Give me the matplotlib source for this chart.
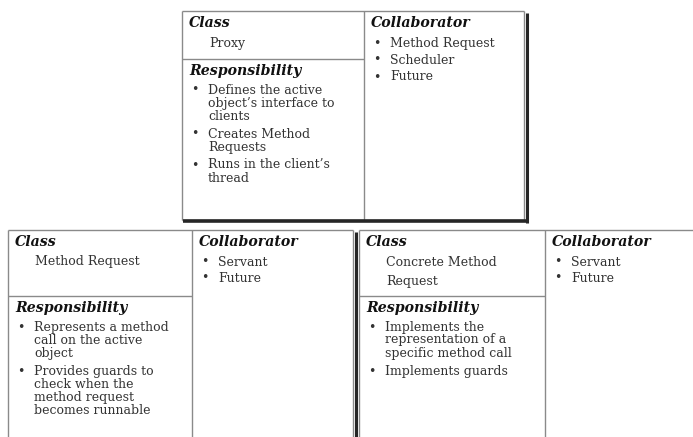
import matplotlib
matplotlib.use("Agg")
import matplotlib.pyplot as plt

# ---- content ----
proxy_class = ["Proxy"]
proxy_responsibilities = [
    ["Defines the active", "object\u2019s interface to", "clients"],
    ["Creates Method", "Requests"],
    ["Runs in the client\u2019s", "thread"],
]
proxy_collaborators = ["Method Request", "Scheduler", "Future"]

mr_class = ["Method Request"]
mr_responsibilities = [
    ["Represents a method", "call on the active", "object"],
    ["Provides guards to", "check when the", "method request", "becomes runnable"],
]
mr_collaborators = ["Servant", "Future"]

cmr_class = ["Concrete Method", "Request"]
cmr_responsibilities = [
    ["Implements the", "representation of a", "specific method call"],
    ["Implements guards"],
]
cmr_collaborators = ["Servant", "Future"]

W, H = 693, 437
fig = plt.figure(figsize=(W / 100, H / 100), dpi=100)
ax = fig.add_axes([0, 0, 1, 1])
ax.set_xlim(0, W)
ax.set_ylim(H, 0)
ax.axis("off")

SERIF = ["DejaVu Serif"]
BODY = 9.0
HEAD = 10.2
BODY_C = "#333333"
HEAD_C = "#111111"
EDGE_C = "#8a8a8a"
SHADOW_C = "#262626"


def line(x0, y0, x1, y1, c=EDGE_C, lw=1.0):
    ax.plot([x0, x1], [y0, y1], color=c, lw=lw, solid_capstyle="butt", clip_on=False)


def card(x0, y0, x1, y1, xdiv, ydiv, cls, resp, collab, collab_step,
         shadow_right=True, shadow_bottom=True, class_step=19.5):
    # frame
    line(x0, y0, x1, y0)
    line(x0, y0, x0, y1)
    line(x1, y0, x1, y1)
    if y1 < H:
        line(x0, y1, x1, y1)
    line(xdiv, y0, xdiv, y1)
    line(x0, ydiv, xdiv, ydiv)
    if shadow_right:
        line(x1 + 2.5, y0 + 2, x1 + 2.5, y1 + 2.5, c=SHADOW_C, lw=2.2)
    if shadow_bottom and y1 < H:
        line(x0 + 1, y1 + 0.5, x1 + 2.5, y1 + 0.5, c=SHADOW_C, lw=2.6)

    hx = x0 + 7
    ax.text(hx, y0 + 12, "Class", family=SERIF, style="italic", weight="bold",
            size=HEAD, color=HEAD_C, va="center", ha="left")
    for i, name in enumerate(cls):
        ax.text(x0 + 27, y0 + 32 + i * class_step, name, family=SERIF, size=BODY,
                color=BODY_C, va="center", ha="left")

    ax.text(hx, ydiv + 12, "Responsibility", family=SERIF, style="italic",
            weight="bold", size=HEAD, color=HEAD_C, va="center", ha="left")
    y = ydiv + 31
    for item in resp:
        ax.text(x0 + 12.5, y, "\u2022", family=SERIF, size=BODY, color=BODY_C,
                va="center", ha="center")
        for ln in item:
            ax.text(x0 + 26, y, ln, family=SERIF, size=BODY, color=BODY_C,
                    va="center", ha="left")
            y += 13
        y += 5

    cx = xdiv + 7
    ax.text(cx, y0 + 12, "Collaborator", family=SERIF, style="italic",
            weight="bold", size=HEAD, color=HEAD_C, va="center", ha="left")
    for i, name in enumerate(collab):
        yy = y0 + 32 + i * collab_step
        ax.text(xdiv + 12.5, yy, "\u2022", family=SERIF, size=BODY, color=BODY_C,
                va="center", ha="center")
        ax.text(xdiv + 26, yy, name, family=SERIF, size=BODY, color=BODY_C,
                va="center", ha="left")


# top card: Proxy
card(182, 11, 524, 220, 364, 59, proxy_class, proxy_responsibilities,
     proxy_collaborators, 17)
# bottom left: Method Request
card(8, 230, 353, H + 5, 192, 296, mr_class, mr_responsibilities,
     mr_collaborators, 16, shadow_bottom=False)
# bottom right: Concrete Method Request
card(359, 230, W + 15, H + 5, 545, 296, cmr_class, cmr_responsibilities,
     cmr_collaborators, 16, shadow_right=False, shadow_bottom=False)

fig.savefig("out.png", dpi=100, facecolor="white")
